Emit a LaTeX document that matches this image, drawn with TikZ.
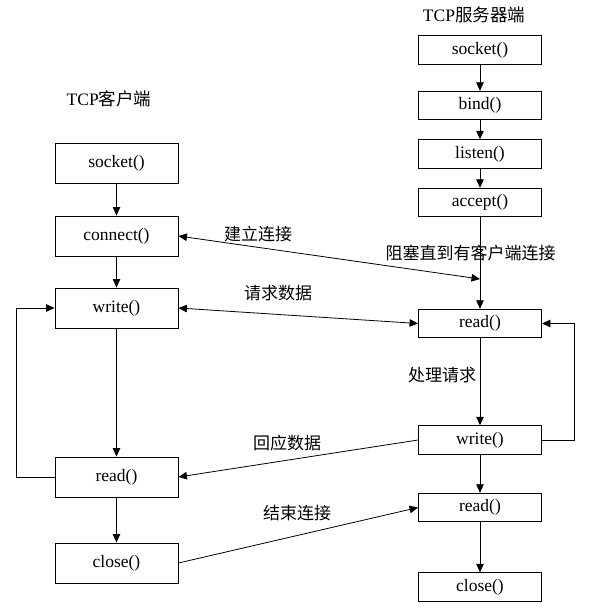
\documentclass[tikz,border=0pt]{standalone}
\usepackage{fontspec}
\setmainfont{Liberation Serif}
\newfontfamily\cjk{Noto Sans CJK SC}
\usetikzlibrary{arrows.meta}

\begin{document}
\begin{tikzpicture}[
        x=1pt, y=-1pt,
        txt/.style={inner sep=0pt, font=\fontsize{17.5}{20}\selectfont},
        fn/.style={txt, draw, line width=0.9pt, minimum width=123pt},
        cbox/.style={fn, minimum height=40pt},
        sbox/.style={fn, minimum height=28.5pt},
        lbl/.style={txt, font=\fontsize{17}{20}\selectfont\cjk},
        flow/.style={-{Triangle[length=8.5pt,width=7.5pt]}, line width=0.8pt},
        twoway/.style={{Triangle[length=8.5pt,width=7.5pt]}-{Triangle[length=8.5pt,width=7.5pt]}, line width=0.8pt}
    ]
    \useasboundingbox (0,0) rectangle (589,608);
    \node[txt] (ctitle) at (109,99) {TCP{\cjk 客户端}};
    \node[txt] (stitle) at (474,15) {TCP{\cjk 服务器端}};

    \node[cbox] (csocket) at (116.5,163) {socket()};
    \node[cbox] (cconnect) at (116.5,236) {connect()};
    \node[cbox] (cwrite) at (116.5,308) {write()};
    \node[cbox] (cread) at (116.5,477) {read()};
    \node[cbox] (cclose) at (116.5,563) {close()};

    \node[sbox] (ssocket) at (480,50) {socket()};
    \node[sbox] (sbind) at (480,105.5) {bind()};
    \node[sbox] (slisten) at (480,154) {listen()};
    \node[sbox] (saccept) at (480,202.5) {accept()};
    \node[sbox] (sread) at (480,323.5) {read()};
    \node[sbox] (swrite) at (480,440) {write()};
    \node[sbox] (sreadb) at (480,507.5) {read()};
    \node[sbox] (sclose) at (480,587) {close()};
    \coordinate (sjoin) at (480,279);

    \node[lbl] (lconnect) at (258,234) {建立连接};
    \node[lbl] (lblock) at (470.5,253) {阻塞直到有客户端连接};
    \node[lbl] (lrequest) at (278,293) {请求数据};
    \node[lbl] (lhandle) at (442,375) {处理请求};
    \node[lbl] (lreply) at (287,443) {回应数据};
    \node[lbl] (lend) at (297,513) {结束连接};

    \draw[flow] (csocket) -- (cconnect);
    \draw[flow] (cconnect) -- (cwrite);
    \draw[flow] (cwrite) -- (cread);
    \draw[flow] (cread) -- (cclose);
    \draw[flow] (cread.west) -- ++(-38,0) |- (cwrite.west);

    \draw[flow] (ssocket) -- (sbind);
    \draw[flow] (sbind) -- (slisten);
    \draw[flow] (slisten) -- (saccept);
    \draw[flow] (saccept) -- (sread);
    \draw[flow] (sread) -- (swrite);
    \draw[flow] (swrite) -- (sreadb);
    \draw[flow] (sreadb) -- (sclose);
    \draw[flow] (swrite.east) -- ++(32,0) |- (sread.east);

    \draw[twoway] (cconnect.east) -- (sjoin);
    \draw[twoway] (cwrite.east) -- (sread.west);
    \draw[flow] (swrite.west) -- (cread.east);
    \draw[flow] (cclose.east) -- (sreadb.west);
\end{tikzpicture}
\end{document}
